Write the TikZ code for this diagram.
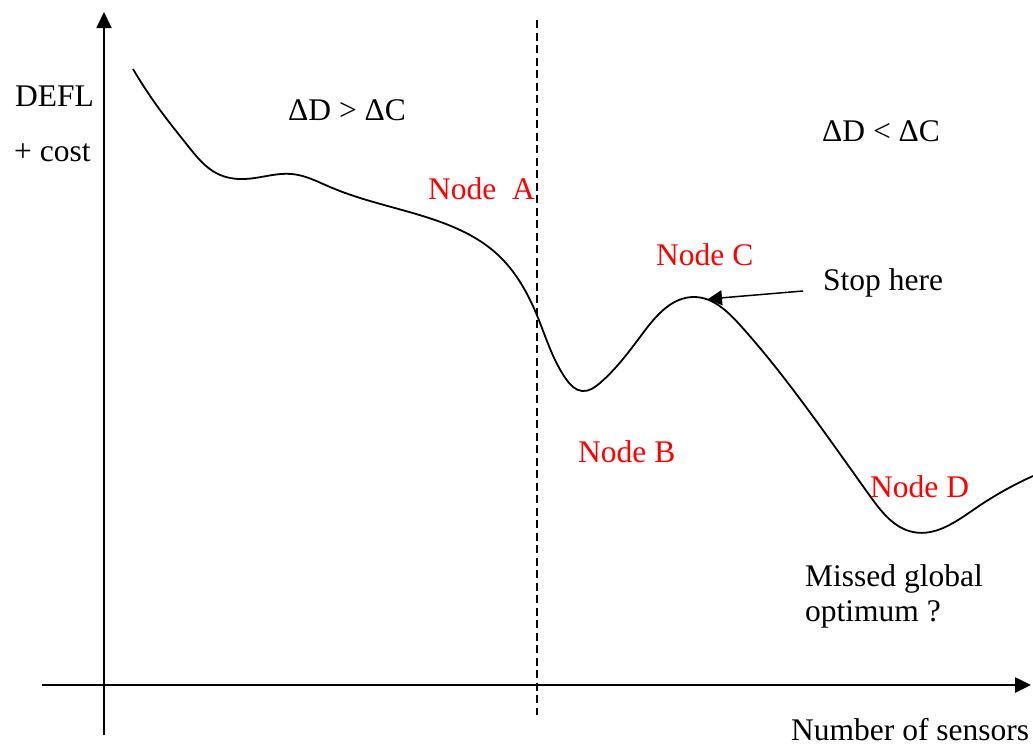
\documentclass[tikz,border=0pt]{standalone}
\usepackage{fontspec}
\setmainfont{Liberation Serif}
\usetikzlibrary{arrows.meta,hobby}
\begin{document}
\begin{tikzpicture}[x=1pt,y=-1pt,
  lbl/.style={inner sep=0pt,anchor=base west,font=\fontsize{31.5}{36}\selectfont},
  redlbl/.style={lbl,text=red},
  axis/.style={-{Triangle[length=16pt,width=15pt]}},
  curve/.style={line width=1.8pt,line join=round},
  pointer/.style={line width=1.5pt,-{Triangle[length=14pt,width=15pt]}},
  divider/.style={line width=1.5pt,dash pattern=on 8pt off 4.5pt}]
\useasboundingbox (0,0) rectangle (1033,747);

% axes
\coordinate (ybot) at (104,735);
\coordinate (ytop) at (104,12);
\coordinate (xleft) at (42,685);
\coordinate (xright) at (1031,685);
\draw[axis,line width=1.8pt] (ybot) -- (ytop);
\draw[axis,line width=2.6pt] (xleft) -- (xright);

% boundary between the two regions
\coordinate (dtop) at (537,20);
\coordinate (dbot) at (537,715);
\draw[divider] (dtop) -- (dbot);

% objective curve
\draw[curve] (133,69) to[curve through={(160,110) (188,146) (218,174) (245,179)
  (292,174) (330,187) (429,218) (497,254) (536,313) (566,379) (582,391)
  (600,383) (643,333) (694,297) (740,325) (806,407) (870,496) (913,532)
  (976,508)}] (1033,476);
\coordinate (peakC) at (708,299);

% labels
\node[lbl] (defl) at (15,106) {DEFL};
\node[lbl] (cost) at (14,161) {+ cost};
\node[lbl] (gt) at (288,120) {ΔD > ΔC};
\node[lbl] (lt) at (822,141) {ΔD < ΔC};
\node[redlbl] (nA) at (428,199) {Node\ \ A};
\node[redlbl] (nC) at (656,265) {Node C};
\node[redlbl] (nB) at (578,462) {Node B};
\node[redlbl] (nD) at (870,497) {Node D};
\node[lbl] (stop) at (823,290) {Stop here};
\node[lbl] (miss1) at (805,586) {Missed global};
\node[lbl] (miss2) at (805,621) {optimum ?};
\node[lbl] (xlab) at (791,740) {Number of sensors};

% pointer to the local optimum
\coordinate (stoptail) at (803,291);
\draw[pointer] (stoptail) -- (peakC);
\end{tikzpicture}
\end{document}
